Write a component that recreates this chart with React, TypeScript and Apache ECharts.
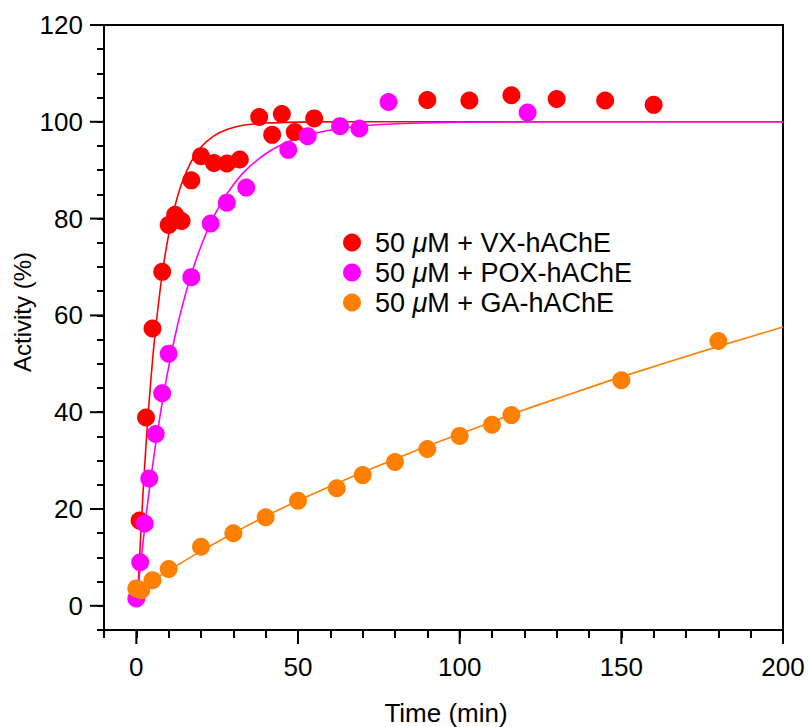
import React, { useEffect, useRef } from "react";
import * as echarts from "echarts";

// Reactivation time courses (minutes) and activity (%)
const vxTime = [1, 3, 5, 8, 10, 12, 14, 17, 20, 24, 28, 32, 38, 42, 45, 49, 55, 90, 103, 116, 130, 145, 160];
const vxActivity = [17.6, 38.9, 57.3, 69, 78.7, 80.8, 79.5, 87.9, 92.9, 91.5, 91.4, 92.2, 101, 97.3, 101.6, 97.9, 100.7, 104.5, 104.4, 105.5, 104.7, 104.4, 103.5];

const poxTime = [0, 1.2, 2.6, 4, 6, 8, 10, 17, 23, 28, 34, 47, 53, 63, 69, 78, 121];
const poxActivity = [1.5, 9, 17, 26.3, 35.5, 43.9, 52.1, 67.9, 79, 83.3, 86.4, 94.2, 97, 99.1, 98.6, 104.1, 101.9];

const gaTime = [0, 1.5, 5, 10, 20, 30, 40, 50, 62, 70, 80, 90, 100, 110, 116, 150, 180];
const gaActivity = [3.6, 3.2, 5.3, 7.6, 12.2, 15, 18.3, 21.7, 24.3, 27, 29.7, 32.4, 35.1, 37.4, 39.4, 46.6, 54.7];

// Fitted reactivation curves (vertices)
const vxFitTime = [0.3, 1, 2, 3, 4, 5, 6, 8, 10, 12, 14, 17, 20, 24, 28, 33, 40, 50, 65, 200];
const vxFitActivity = [0, 10, 22.5, 33.3, 42.6, 50.6, 57.5, 68.5, 76.7, 82.7, 87.2, 91.8, 94.8, 97.1, 98.4, 99.3, 99.74, 99.94, 100, 100];

const poxFitTime = [0, 1, 2, 3, 4, 5, 6, 8, 10, 12, 14, 17, 20, 24, 28, 33, 40, 47, 55, 63, 72, 85, 100, 130, 200];
const poxFitActivity = [0, 6.6, 12.7, 18.5, 23.8, 28.8, 33.5, 42, 49.3, 55.8, 61.4, 68.5, 74.3, 80.5, 85.1, 89.4, 93.4, 95.9, 97.6, 98.6, 99.3, 99.7, 99.9, 100, 100];

const gaFitTime = [0, 10, 20, 30, 40, 50, 60, 70, 80, 90, 100, 110, 120, 130, 150, 180, 200];
const gaFitActivity = [3.3, 7.3, 11.3, 15, 18.5, 21.7, 24.7, 27.6, 30.3, 33, 35.5, 38, 40.5, 42.8, 47.3, 53.6, 57.6];

// Axis ranges and ticks
const xMin = -10;
const xMax = 200;
const yMin = -5;
const yMax = 120;
const xMajorTicks = [0, 50, 100, 150, 200];
const xMinorTicks = [-10, 0, 10, 20, 30, 40, 50, 60, 70, 80, 90, 100, 110, 120, 130, 140, 150, 160, 170, 180, 190, 200];
const yMajorTicks = [0, 20, 40, 60, 80, 100, 120];
const yMinorTicks = [-5, 0, 5, 10, 15, 20, 25, 30, 35, 40, 45, 50, 55, 60, 65, 70, 75, 80, 85, 90, 95, 100, 105, 110, 115, 120];

const seriesNames = ["50 μM + VX-hAChE", "50 μM + POX-hAChE", "50 μM + GA-hAChE"];
const seriesColors = ["#ff0000", "#ff00ff", "#ff8000"];

const FONT = "'Liberation Sans', Arial, Helvetica, sans-serif";
const MAJOR_TICK = 14;

const zip = (xs: number[], ys: number[]) => xs.map((x, i) => [x, ys[i]]);

export default function App() {
  const ref = useRef<HTMLDivElement>(null);

  useEffect(() => {
    if (!ref.current) return;
    const chart = echarts.init(ref.current, null, { renderer: "svg" });

    const axisLine = { show: true, onZero: false, lineStyle: { color: "#000", width: 2 } };

    const points = [
      [vxTime, vxActivity],
      [poxTime, poxActivity],
      [gaTime, gaActivity],
    ];
    const fits = [
      [vxFitTime, vxFitActivity],
      [poxFitTime, poxFitActivity],
      [gaFitTime, gaFitActivity],
    ];

    const series: any[] = [];
    seriesNames.forEach((name, i) => {
      series.push({
        name: name + " fit",
        type: "line",
        data: zip(fits[i][0], fits[i][1]),
        showSymbol: false,
        smooth: 0.3,
        lineStyle: { color: seriesColors[i], width: 1.6 },
        silent: true,
        z: 2,
      });
      series.push({
        name,
        type: "scatter",
        data: zip(points[i][0], points[i][1]),
        symbol: "circle",
        symbolSize: 18,
        itemStyle: { color: seriesColors[i], opacity: 1 },
        z: 3,
      });
    });

    // Long major ticks outside the frame, positioned by the axes' scales
    series.push({
      name: "x major ticks",
      type: "custom",
      silent: true,
      clip: false,
      z: 5,
      data: xMajorTicks.map((v) => [v, yMin]),
      renderItem: (_params: any, api: any) => {
        const p = api.coord([api.value(0), api.value(1)]);
        return {
          type: "line",
          shape: { x1: p[0], y1: p[1], x2: p[0], y2: p[1] + MAJOR_TICK },
          style: { stroke: "#000", lineWidth: 2 },
        };
      },
    });
    series.push({
      name: "y major ticks",
      type: "custom",
      silent: true,
      clip: false,
      z: 5,
      data: yMajorTicks.map((v) => [xMin, v]),
      renderItem: (_params: any, api: any) => {
        const p = api.coord([api.value(0), api.value(1)]);
        return {
          type: "line",
          shape: { x1: p[0] - MAJOR_TICK, y1: p[1], x2: p[0], y2: p[1] },
          style: { stroke: "#000", lineWidth: 2 },
        };
      },
    });

    const tickLine = { color: "#000", width: 2 };
    const labelStyle = { fontFamily: FONT, fontSize: 26, color: "#000" };

    chart.setOption({
      animation: false,
      grid: {
        left: 104,
        right: 25,
        top: 25,
        bottom: 97,
        show: true,
        borderColor: "#000",
        borderWidth: 2,
        backgroundColor: "transparent",
        containLabel: false,
        outerBoundsMode: "none",
      },
      legend: {
        data: seriesNames,
        orient: "vertical",
        left: 343,
        top: 229,
        padding: 0,
        itemWidth: 18,
        itemHeight: 18,
        itemGap: 3,
        icon: "circle",
        selectedMode: false,
        formatter: (name: string) => name.replace("μ", "{i|μ}"),
        textStyle: {
          fontFamily: FONT,
          fontSize: 27,
          color: "#000",
          padding: [0, 0, 0, 9],
          rich: {
            i: { fontFamily: FONT, fontSize: 27, fontStyle: "italic", color: "#000" },
          },
        },
      },
      xAxis: {
        type: "value",
        min: xMin,
        max: xMax,
        position: "bottom",
        splitLine: { show: false },
        axisLine,
        axisTick: { show: true, length: 8, customValues: xMinorTicks, lineStyle: tickLine },
        axisLabel: { customValues: xMajorTicks, margin: 24, ...labelStyle },
      },
      yAxis: {
        type: "value",
        min: yMin,
        max: yMax,
        position: "left",
        splitLine: { show: false },
        axisLine,
        axisTick: { show: true, length: 7, customValues: yMinorTicks, lineStyle: tickLine },
        axisLabel: { customValues: yMajorTicks, margin: 21, ...labelStyle },
      },
      graphic: [
        {
          type: "text",
          x: 446,
          y: 713,
          style: {
            text: "Time (min)",
            font: `26px ${FONT}`,
            fill: "#000",
            align: "center",
            verticalAlign: "middle",
          },
        },
        {
          type: "text",
          x: 22,
          y: 312,
          rotation: Math.PI / 2,
          style: {
            text: "Activity (%)",
            font: `24px ${FONT}`,
            fill: "#000",
            align: "center",
            verticalAlign: "middle",
          },
        },
      ],
      series,
    });

    return () => chart.dispose();
  }, []);

  return (
    <div
      ref={ref}
      style={{ position: "fixed", left: 0, top: 0, width: 808, height: 727, background: "#fff" }}
    />
  );
}
